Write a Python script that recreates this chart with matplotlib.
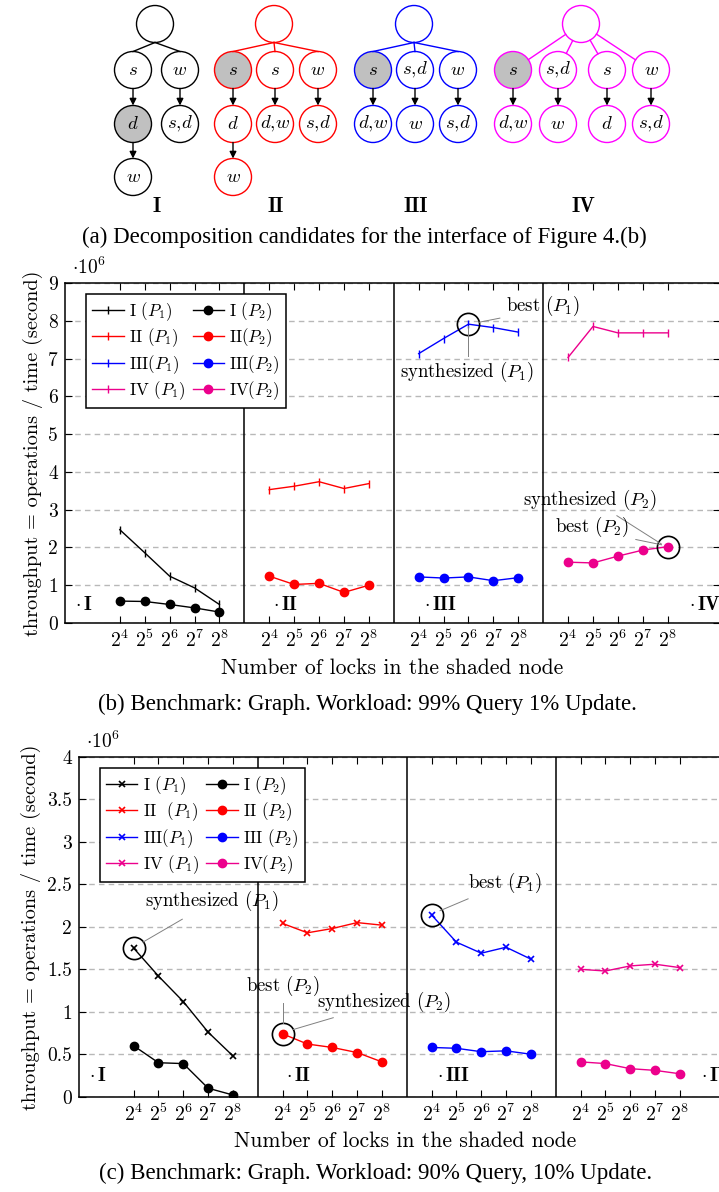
import numpy as np
import matplotlib
matplotlib.use('Agg')
import matplotlib.pyplot as plt
from matplotlib.patches import Circle

plt.rcParams['font.family'] = 'cmr10'
plt.rcParams['mathtext.fontset'] = 'cm'
plt.rcParams['axes.unicode_minus'] = False
plt.rcParams['axes.formatter.use_mathtext'] = True

variants = ['I', 'II', 'III', 'IV']
plot_colors = ['black', 'red', 'blue', '#ec008c']
tree_colors = ['black', 'red', 'blue', '#ff00ff']
lock_labels = [r'$2^4$', r'$2^5$', r'$2^6$', r'$2^7$', r'$2^8$']

# (b) 99% query / 1% update, throughput in 10^6 ops/s, one list per variant
b_p1 = [[2.47, 1.86, 1.24, 0.93, 0.49],
        [3.53, 3.62, 3.74, 3.56, 3.69],
        [7.13, 7.53, 7.91, 7.82, 7.70],
        [7.03, 7.85, 7.68, 7.68, 7.68]]
b_p2 = [[0.58, 0.57, 0.49, 0.40, 0.29],
        [1.24, 1.02, 1.05, 0.81, 1.00],
        [1.22, 1.19, 1.22, 1.12, 1.20],
        [1.61, 1.59, 1.77, 1.93, 2.02]]

# (c) 90% query / 10% update
c_p1 = [[1.75, 1.42, 1.12, 0.76, 0.48],
        [2.04, 1.93, 1.98, 2.05, 2.02],
        [2.14, 1.82, 1.69, 1.76, 1.62],
        [1.50, 1.48, 1.54, 1.56, 1.52]]
c_p2 = [[0.60, 0.40, 0.39, 0.10, 0.02],
        [0.74, 0.62, 0.58, 0.52, 0.41],
        [0.58, 0.57, 0.53, 0.54, 0.50],
        [0.41, 0.39, 0.33, 0.31, 0.27]]

b_legend = [r'I $(P_1)$', r'II $(P_1)$', r'III$(P_1)$', r'IV $(P_1)$',
            r'I $(P_2)$', r'II$(P_2)$', r'III$(P_2)$', r'IV$(P_2)$']
c_legend = [r'I $(P_1)$', r'II  $(P_1)$', r'III$(P_1)$', r'IV $(P_1)$',
            r'I $(P_2)$', r'II $(P_2)$', r'III $(P_2)$', r'IV$(P_2)$']

# decomposition trees: columns of node labels under the root
tree_nodes = [[['s', 'd', 'w'], ['w', r's,\!d']],
              [['s', 'd', 'w'], ['s', r'd,\!w'], ['w', r's,\!d']],
              [['s', r'd,\!w'], [r's,\!d', 'w'], ['w', r's,\!d']],
              [['s', r'd,\!w'], [r's,\!d', 'w'], ['s', 'd'], ['w', r's,\!d']]]
tree_shaded = [(0, 1), (0, 0), (0, 0), (0, 0)]
tree_root_x = [155, 274, 414, 581]
tree_col_x = [[133, 180], [233, 275, 318], [373, 415, 458], [513, 558, 607, 651]]
row_y = [24, 70, 124, 177]
R = 18.5

W, H = 719, 1192
fig = plt.figure(figsize=(W / 100, H / 100), dpi=100)

# ---- (a) trees ----
tax = fig.add_axes([0, 1 - 230 / H, 1, 230 / H])
tax.set_xlim(0, W)
tax.set_ylim(230, 0)
tax.axis('off')
for k in range(4):
    col = tree_colors[k]
    rx, ry = tree_root_x[k], row_y[0]
    tax.add_patch(Circle((rx, ry), R, fill=False, ec=col, lw=1))
    for j, (cx, labels) in enumerate(zip(tree_col_x[k], tree_nodes[k])):
        cy = row_y[1]
        if k < 3:
            tax.plot([rx, cx], [ry + R, cy - R], color=col, lw=1)
        else:
            d = np.array([cx - rx, cy - ry], dtype=float)
            d /= np.hypot(*d)
            tax.plot([rx + R * d[0], cx - R * d[0]], [ry + R * d[1], cy - R * d[1]], color=col, lw=1)
        for i, lab in enumerate(labels):
            ny = row_y[i + 1]
            shaded = (j, i) == tree_shaded[k]
            tax.add_patch(Circle((cx, ny), R, fc='#c0c0c0' if shaded else 'white', ec=col, lw=1))
            tax.text(cx, ny, '$' + lab + '$', ha='center', va='center', fontsize=13.5)
            if i > 0:
                tax.annotate('', xy=(cx, ny - R), xytext=(cx, row_y[i] + R),
                             arrowprops=dict(arrowstyle='-|>', color='black', lw=1,
                                             mutation_scale=10, shrinkA=0, shrinkB=0))
    tax.text(rx + 2, 207, variants[k], fontfamily='cmb10', fontsize=15, ha='center', va='center')

fig.text(364 / W, 1 - 237 / H, '(a) Decomposition candidates for the interface of Figure 4.(b)',
         fontfamily='Liberation Serif', fontsize=16.5, ha='center', va='center')


def draw_panel(ax, p1, p2, mk1, ms1, mew1, ymax, yticks, ytl, legend_labels, sec_y):
    handles = []
    for k in range(4):
        xs = np.arange(5) + 6 * k
        h, = ax.plot(xs, p1[k], color=plot_colors[k], lw=1, marker=mk1, ms=ms1, mew=mew1, zorder=3)
        handles.append(h)
    for k in range(4):
        xs = np.arange(5) + 6 * k
        h, = ax.plot(xs, p2[k], color=plot_colors[k], lw=1, marker='o', ms=6, zorder=3)
        handles.append(h)
    for xd in [5, 11, 17]:
        ax.axvline(xd, color='black', lw=1.1, zorder=2)
    ax.set_xlim(-2.2, 24.1)
    ax.set_ylim(0, ymax)
    ax.set_xticks([6 * k + i for k in range(4) for i in range(5)])
    ax.set_xticklabels(lock_labels * 4, fontsize=14.2)
    ax.set_yticks(yticks)
    ax.set_yticklabels(ytl, fontsize=14)
    ax.tick_params(direction='in', length=5, width=0.8, top=True, right=True, pad=5)
    ax.grid(axis='y', color='#b8b8b8', ls=(0, (4, 3)), lw=1)
    for s in ax.spines.values():
        s.set_linewidth(1.1)
    ax.set_ylabel('throughput = operations / time (second)', fontsize=14.6, labelpad=4)
    ax.set_xlabel('Number of locks in the shaded node', fontsize=15.6, labelpad=5)
    ax.text(0.01, 1.045, r'$\cdot 10^6$', transform=ax.transAxes, fontsize=14, ha='left', va='center')
    for k, sx in enumerate([-1.8, 6.15, 12.2, 22.85]):
        ax.text(sx, sec_y, r'$\cdot\,\mathbf{' + variants[k] + '}$', fontsize=14, ha='left', va='center')
    leg = ax.legend(handles, legend_labels, ncol=2, loc='upper left', bbox_to_anchor=(0.032, 0.968),
                    borderaxespad=0, fontsize=12.3, fancybox=False, framealpha=1, edgecolor='black',
                    handlelength=1.85, handletextpad=0.3, columnspacing=0.45, labelspacing=0.22,
                    borderpad=0.35)
    leg.get_frame().set_linewidth(1.1)
    leg.set_zorder(5)


def mark(ax, x, y):
    ax.plot([x], [y], marker='o', ms=16, mfc='none', mec='black', mew=1.2, zorder=4)


def note(ax, text, tx, ty, x0, y0, x1, y1):
    ax.plot([x0, x1], [y0, y1], color='#808080', lw=0.7, zorder=4)
    ax.text(tx, ty, text, fontsize=13.5, ha='center', va='center', zorder=4)


# ---- (b) ----
axb = fig.add_axes([65 / W, 1 - 623 / H, 655 / W, 340 / H])
draw_panel(axb, b_p1, b_p2, '|', 6, 1.0, 9, range(10), [str(v) for v in range(10)], b_legend, 0.48)
mark(axb, 14, b_p1[2][2])
note(axb, r'best $(P_1)$', 17.0, 8.39, 14.42, 7.96, 15.26, 8.07)
note(axb, r'synthesized $(P_1)$', 13.96, 6.65, 14, 7.85, 14, 7.07)
mark(axb, 22, b_p2[3][4])
note(axb, r'synthesized $(P_2)$', 18.88, 3.25, 19.96, 2.84, 21.75, 2.09)
note(axb, r'best $(P_2)$', 18.96, 2.54, 20.72, 2.21, 21.75, 2.07)
fig.text(367 / W, 1 - 704 / H, '(b) Benchmark: Graph. Workload: 99% Query 1% Update.',
         fontfamily='Liberation Serif', fontsize=16.5, ha='center', va='center')

# ---- (c) ----
axc = fig.add_axes([79 / W, 1 - 1096.7 / H, 653 / W, 339.7 / H])
cticks = np.arange(0, 4.01, 0.5)
draw_panel(axc, c_p1, c_p2, 'x', 4.5, 1.2, 4, cticks, ['0', '0.5', '1', '1.5', '2', '2.5', '3', '3.5', '4'],
           c_legend, 0.24)
mark(axc, 0, c_p1[0][0])
note(axc, r'synthesized $(P_1)$', 3.17, 2.30, 0.375, 1.82, 1.96, 2.09)
mark(axc, 6, c_p2[1][0])
note(axc, r'best $(P_2)$', 6.02, 1.30, 6.0, 1.10, 6.0, 0.87)
note(axc, r'synthesized $(P_2)$', 10.08, 1.12, 6.42, 0.79, 8.04, 0.93)
mark(axc, 12, c_p1[2][0])
note(axc, r'best $(P_1)$', 14.96, 2.52, 12.34, 2.19, 13.47, 2.33)
fig.text(376 / W, 1 - 1173 / H, '(c) Benchmark: Graph. Workload: 90% Query, 10% Update.',
         fontfamily='Liberation Serif', fontsize=16.5, ha='center', va='center')

fig.savefig('out.png', dpi=100)
